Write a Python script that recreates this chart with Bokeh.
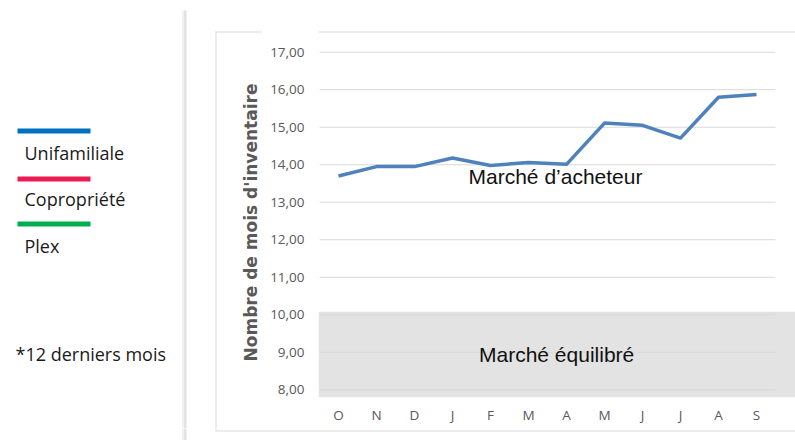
import math
from bokeh.plotting import figure
from bokeh.layouts import row, column
from bokeh.models import Range1d, FixedTicker, Label
from bokeh.core.properties import value
from bokeh.embed import file_html
from bokeh.resources import INLINE

# ---- data ----
months = ["O", "N", "D", "J", "F", "M", "A", "M", "J", "J", "A", "S"]
unifamiliale = [13.70, 13.95, 13.95, 14.18, 13.98, 14.06, 14.01, 15.11, 15.05, 14.71, 15.80, 15.87]
y_ticks = [8, 9, 10, 11, 12, 13, 14, 15, 16, 17]
y_tick_labels = ["8,00", "9,00", "10,00", "11,00", "12,00", "13,00", "14,00", "15,00", "16,00", "17,00"]
equilibre_top = 10.08
legend_names = ["Unifamiliale", "Copropriété", "Plex"]
legend_colors = ["#0070c0", "#ea1c53", "#00b050"]
note = "*12 derniers mois"
y_title = "Nombre de mois d'inventaire"
zone_labels = ["Marché d\u2019acheteur", "Marché équilibré"]

# ---- layout constants (pixels) ----
W, H = 795, 440
LEFT_W = 262          # left panel width
TOP_H = 428           # height of top row
BORDER = "#d9d9d9"
TXT = "#1a1a1a"

# ================= left panel (legend, divider, axis title) =================
lf = figure(width=LEFT_W, height=TOP_H, output_backend="svg", toolbar_location=None,
            x_range=Range1d(0, LEFT_W), y_range=Range1d(TOP_H, 0),
            min_border=0, min_border_left=0, min_border_right=0, min_border_top=0, min_border_bottom=0)
lf.frame_align = False
lf.axis.visible = False
lf.grid.visible = False
lf.outline_line_color = None

# divider shadow
lf.quad(left=[181.5], right=[186.5], top=[10], bottom=[TOP_H], fill_color="#f1f1f1", line_color=None)
lf.quad(left=[183.5], right=[185.5], top=[10], bottom=[TOP_H], fill_color="#e2e2e2", line_color=None)

# chart border (left + top part)
lf.segment(x0=[215.5], x1=[215.5], y0=[31], y1=[TOP_H], line_color=BORDER, line_width=1)
lf.segment(x0=[215], x1=[LEFT_W], y0=[31.5], y1=[31.5], line_color=BORDER, line_width=1)

# legend
bar_y = [130.5, 178.5, 223.5]
txt_y = [152, 198, 245.5]
lf.segment(x0=[17] * 3, x1=[90] * 3, y0=bar_y, y1=bar_y, line_color=legend_colors, line_width=5)
lf.text(x=[24] * 3, y=txt_y, text=legend_names, text_baseline="middle", text_align="left",
        text_font=value("Open Sans"), text_font_size=value("18px"), text_color=TXT)
lf.text(x=[15], y=[353], text=[note], text_baseline="middle", text_align="left",
        text_font=value("Open Sans"), text_font_size=value("18px"), text_color=TXT)

# y-axis title
lf.text(x=[250], y=[222], text=[y_title], angle=math.pi / 2, text_align="center", text_baseline="middle",
        text_font=value("DejaVu Sans"), text_font_style=value("bold"), text_font_size=value("17px"),
        text_color="#595959")

# ================= main chart =================
MW = W - LEFT_W
FL, FT, FB = 318 - LEFT_W, 30, TOP_H - 397
PPU_X, PPU_Y = 38.0, 37.5
X0 = -0.5 - 1 / PPU_X
X1 = X0 + (MW - FL) / PPU_X
Y1 = 17 + (51.7 - FT) / PPU_Y
Y0 = 8 - 7.7 / PPU_Y

p = figure(width=MW, height=TOP_H, output_backend="svg", toolbar_location=None,
           x_range=Range1d(X0, X1), y_range=Range1d(Y0, Y1),
           min_border_left=FL, min_border_right=0, min_border_top=FT, min_border_bottom=FB)
p.frame_align = False
p.outline_line_color = None
p.xgrid.visible = False
p.ygrid.visible = False

# balanced market zone
p.quad(left=[X0], right=[X1], bottom=[Y0], top=[equilibre_top], fill_color="#e3e3e3", line_color=None)

# grid lines
n = len(months)
p.segment(x0=[-0.5] * len(y_ticks), x1=[n - 0.5] * len(y_ticks), y0=y_ticks, y1=y_ticks,
          line_color="#d9d9d9", line_width=1)

# top border of chart box
p.segment(x0=[X0], x1=[X1], y0=[Y1 - 1.5 / PPU_Y], y1=[Y1 - 1.5 / PPU_Y], line_color=BORDER, line_width=1)

# series
p.line(x=list(range(n)), y=unifamiliale, line_color="#4f81bd", line_width=3.5, line_join="round")

# axes
p.xaxis.ticker = FixedTicker(ticks=list(range(n)))
p.xaxis.major_label_overrides = {i: m for i, m in enumerate(months)}
p.yaxis.ticker = FixedTicker(ticks=y_ticks)
p.yaxis.major_label_overrides = {t: l for t, l in zip(y_ticks, y_tick_labels)}
for ax in (p.xaxis, p.yaxis):
    ax.axis_line_color = None
    ax.major_tick_line_color = None
    ax.minor_tick_line_color = None
    ax.major_label_text_font = "Open Sans"
    ax.major_label_text_font_size = "13.5px"
    ax.major_label_text_color = "#595959"
p.xaxis.major_label_standoff = 2
p.yaxis.major_label_standoff = 8

# zone labels
p.add_layout(Label(x=5.71, y=13.69, text=zone_labels[0], text_align="center", text_baseline="middle",
                   text_font="Liberation Sans", text_font_size="21px", text_color="#111111"))
p.add_layout(Label(x=5.74, y=8.94, text=zone_labels[1], text_align="center", text_baseline="middle",
                   text_font="Liberation Sans", text_font_size="21px", text_color="#111111"))

# ================= bottom strip =================
BH = H - TOP_H
bf = figure(width=W, height=BH, output_backend="svg", toolbar_location=None,
            x_range=Range1d(0, W), y_range=Range1d(BH, 0),
            min_border=0, min_border_left=0, min_border_right=0, min_border_top=0, min_border_bottom=0)
bf.frame_align = False
bf.axis.visible = False
bf.grid.visible = False
bf.outline_line_color = None
bf.quad(left=[181.5], right=[186.5], top=[0], bottom=[BH], fill_color="#f1f1f1", line_color=None)
bf.quad(left=[183.5], right=[185.5], top=[0], bottom=[BH], fill_color="#e2e2e2", line_color=None)
bf.segment(x0=[215.5], x1=[215.5], y0=[0], y1=[2.5], line_color=BORDER, line_width=1)
bf.segment(x0=[215], x1=[W], y0=[2.5], y1=[2.5], line_color=BORDER, line_width=1)

layout = column(row(lf, p, spacing=0), bf, spacing=0)
open("out.html", "w").write(file_html(layout, INLINE))
